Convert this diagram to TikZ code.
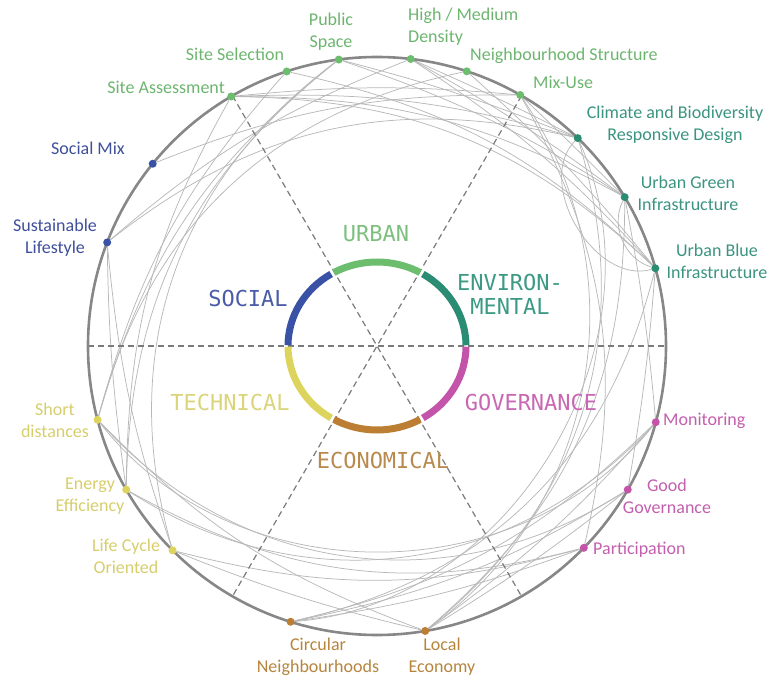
\documentclass[tikz,border=0pt]{standalone}
\usepackage{fontspec}
\setmainfont{Carlito}
\newfontfamily\ringfont{DejaVu Sans Mono}
\usetikzlibrary{calc}
\definecolor{cUrb}{HTML}{6CBD6E}
\definecolor{cEnv}{HTML}{2A8C72}
\definecolor{cSoc}{HTML}{3A52A6}
\definecolor{cTec}{HTML}{DCD45C}
\definecolor{cEco}{HTML}{BC7E33}
\definecolor{cGov}{HTML}{C354AA}
\definecolor{tUrb}{HTML}{6DB56F}
\definecolor{tEnv}{HTML}{3A9480}
\definecolor{tSoc}{HTML}{3F4F9A}
\definecolor{tTec}{HTML}{D6CE6C}
\definecolor{tEco}{HTML}{B5853E}
\definecolor{tGov}{HTML}{C25FAE}
\definecolor{rUrbT}{HTML}{7DBF7F}
\definecolor{rEnvT}{HTML}{3C9A84}
\definecolor{rSocT}{HTML}{4A5CA8}
\definecolor{rTecT}{HTML}{DAD47A}
\definecolor{rEcoT}{HTML}{B98A4E}
\definecolor{rGovT}{HTML}{C868B2}
\pgfdeclarelayer{bg}
\pgfsetlayers{bg,main}
\begin{document}
\begin{tikzpicture}[x=1pt,y=1pt,
  dot/.style={circle,inner sep=0pt,minimum size=8pt,draw=none},
  link/.style={draw=black!28,line width=0.75pt},
  rim/.style={draw=black!47,line width=2.6pt},
  axisline/.style={draw=black!52,line width=1.2pt,dash pattern=on 6pt off 4pt},
  seg/.style={line width=7pt,line cap=butt},
  lab/.style={font=\fontsize{18}{22}\selectfont,align=center,inner sep=0pt},
  ring/.style={font=\ringfont\fontsize{22}{25}\selectfont,align=center,inner sep=0pt}]
\useasboundingbox (-377,-334) rectangle (394,346);
% axes
\coordinate (a0) at (0:289);   \coordinate (a180) at (180:289);
\coordinate (a60) at (60:289); \coordinate (a240) at (240:289);
\coordinate (a120) at (120:289); \coordinate (a300) at (300:289);
\draw[axisline] (a180) -- (a0);
\draw[axisline] (a120) -- (a300);
\draw[axisline] (a60) -- (a240);
% rim
\draw[rim] (0,0) circle[radius=289];
% dots
\foreach \n/\t/\c in {sa/120.3/cUrb, ss/108.2/cUrb, ps/97.6/cUrb, hd/83.3/cUrb, ns/71.9/cUrb, mu/60.3/cUrb,
  cb/46/cEnv, ug/31/cEnv, ub/15.6/cEnv,
  mo/-15.3/cGov, gg/-29.8/cGov, pa/-44.3/cGov,
  le/-80.4/cEco, cn/-107.4/cEco,
  lc/-135/cTec, ee/-150.2/cTec, sd/-165.2/cTec,
  sl/159/cSoc, sm/140.9/cSoc}{
  \node[dot,fill=\c] (\n) at (\t:289) {};
  \expandafter\xdef\csname myang-\n\endcsname{\t}
}
% connectors
\begin{pgfonlayer}{bg}
\foreach \a/\b in {sa/mu, sa/cb, sa/ug, sa/ub, sa/ee,
  ss/sd, ss/ub, ps/sd, ps/ee, ps/lc, ps/cb, ps/ug,
  hd/cb, hd/ug, hd/ub, hd/sl, ns/sd, ns/ub,
  mu/sm, mu/ug, mu/le, mu/pa, cb/sl, cb/cn, cb/le,
  ug/le, ug/mo, ub/gg, ub/cn, sl/lc, sl/ee,
  sd/mo, sd/le, sd/gg, ee/pa, ee/mo, lc/le, lc/pa,
  cn/mo, cn/gg, le/mo, le/gg, cn/pa}{
  \pgfmathsetmacro\d{mod(\csname myang-\b\endcsname-\csname myang-\a\endcsname+720,360)}
  \pgfmathsetmacro\dd{min(\d,360-\d)}
  \pgfmathsetmacro\sg{(\d<180) ? 1 : -1}
  \pgfmathsetmacro\bb{\sg*min(62,52*(\dd/150)^2.5)}
  \draw[link] (\a) to[bend right=\bb] (\b);
}
\draw[link] (cb) to[bend right=75] (ub);
\draw[link] (ug) to[bend right=50] (ub);
\end{pgfonlayer}
% inner ring
\draw[seg,cUrb] ({89*cos(61)},{84*sin(61)}) arc[start angle=61,end angle=119,x radius=89,y radius=84];
\draw[seg,cSoc] ({89*cos(121)},{84*sin(121)}) arc[start angle=121,end angle=179.5,x radius=89,y radius=84];
\draw[seg,cTec] ({89*cos(180.5)},{84*sin(180.5)}) arc[start angle=180.5,end angle=239,x radius=89,y radius=84];
\draw[seg,cEco] ({89*cos(241)},{84*sin(241)}) arc[start angle=241,end angle=299,x radius=89,y radius=84];
\draw[seg,cGov] ({89*cos(301)},{84*sin(301)}) arc[start angle=301,end angle=359.5,x radius=89,y radius=84];
\draw[seg,cEnv] ({89*cos(0.5)},{84*sin(0.5)}) arc[start angle=0.5,end angle=59,x radius=89,y radius=84];
% ring labels
\node[ring,text=rUrbT] (rUrb) at (-1,112) {URBAN};
\node[ring,text=rSocT] (rSoc) at (-129,48) {SOCIAL};
\node[ring,text=rEnvT,font=\ringfont\fontsize{22}{24}\selectfont] (rEnv) at (133,52) {ENVIRON-\\MENTAL};
\node[ring,text=rTecT] (rTec) at (-147,-56) {TECHNICAL};
\node[ring,text=rGovT] (rGov) at (154,-56) {GOVERNANCE};
\node[ring,text=rEcoT] (rEco) at (6,-114) {ECONOMICAL};
% labels
\node[lab,text=tUrb,anchor=east] (lsa) at (-152,259) {Site Assessment};
\node[lab,text=tUrb] (lss) at (-142,292) {Site Selection};
\node[lab,text=tUrb] (lps) at (-46,314) {Public\\Space};
\node[lab,text=tUrb,anchor=west,align=left] (lhd) at (31,319) {High / Medium\\Density};
\node[lab,text=tUrb,anchor=west] (lns) at (93,290) {Neighbourhood Structure};
\node[lab,text=tUrb,anchor=west] (lmu) at (156,264) {Mix-Use};
\node[lab,text=tEnv] (lcb) at (298,221.5) {Climate and Biodiversity\\Responsive Design};
\node[lab,text=tEnv] (lug) at (311,153) {Urban Green\\Infrastructure};
\node[lab,text=tEnv] (lub) at (340,85) {Urban Blue\\Infrastructure};
\node[lab,text=tGov,anchor=west] (lmo) at (286,-75) {Monitoring};
\node[lab,text=tGov] (lgg) at (290,-150) {Good\\Governance};
\node[lab,text=tGov,anchor=west] (lpa) at (216,-204) {Participation};
\node[lab,text=tEco] (lle) at (65,-311) {Local\\Economy};
\node[lab,text=tEco] (lcn) at (-59,-311) {Circular\\Neighbourhoods};
\node[lab,text=tTec] (llc) at (-251,-210) {Life Cycle\\Oriented};
\node[lab,text=tTec] (lee) at (-287,-150) {Energy\\Efficiency};
\node[lab,text=tTec] (lsd) at (-322,-74) {Short\\distances};
\node[lab,text=tSoc] (lsl) at (-322,108) {Sustainable\\Lifestyle};
\node[lab,text=tSoc] (lsm) at (-289,198) {Social Mix};
\end{tikzpicture}
\end{document}
